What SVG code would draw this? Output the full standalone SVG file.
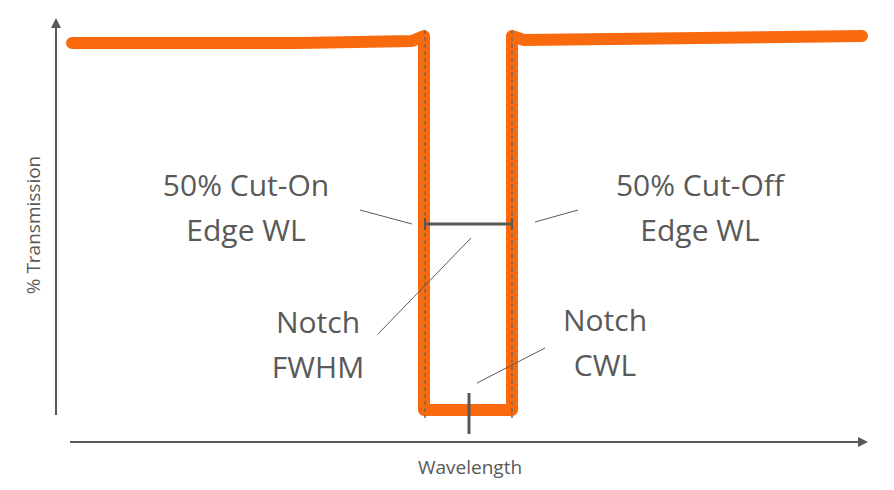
<svg xmlns="http://www.w3.org/2000/svg" width="894" height="490" viewBox="0 0 894 490">
<style>
.t{font-family:"Open Sans","Liberation Sans",sans-serif;fill:#595959;text-anchor:middle}
.big{font-size:30px}.sm{font-size:19px}
.ax{stroke:#595959;stroke-width:2;fill:none}
.ld{stroke:#595959;stroke-width:1;fill:none}
</style>
<defs><marker id="ah" markerWidth="10" markerHeight="10" refX="8" refY="5" orient="auto" markerUnits="userSpaceOnUse"><path d="M0,0 L10,5 L0,10 z" fill="#595959"/></marker></defs>
<rect width="894" height="490" fill="#fff"/>
<g id="axes">
<line class="ax" x1="56" y1="415" x2="56" y2="20" marker-end="url(#ah)"/>
<line class="ax" x1="70" y1="442" x2="866" y2="442" marker-end="url(#ah)"/>
</g>
<g id="curve">
<path d="M72,43 L300,43 L412,41 L424,36 L424,410 L512,410 L512,36 L524,40 L700,38 L862,36" fill="none" stroke="#f96a0e" stroke-width="12" stroke-linecap="round" stroke-linejoin="round"/>
<line x1="425" y1="30" x2="425" y2="418" stroke="#7a6a50" stroke-width="1.5" stroke-dasharray="4,3"/>
<line x1="512" y1="30" x2="512" y2="418" stroke="#7a6a50" stroke-width="1.5" stroke-dasharray="4,3"/>
</g>
<g id="connectors">
<line x1="425" y1="224" x2="512" y2="224" stroke="#595959" stroke-width="3"/>
<line x1="425" y1="218" x2="425" y2="230" stroke="#595959" stroke-width="2"/>
<line x1="512" y1="218" x2="512" y2="230" stroke="#595959" stroke-width="2"/>
<line x1="469" y1="393" x2="469" y2="434" stroke="#595959" stroke-width="3"/>
<line class="ld" x1="360" y1="210" x2="412" y2="224"/>
<line class="ld" x1="535" y1="222" x2="578" y2="210"/>
<line class="ld" x1="471" y1="238" x2="378" y2="334"/>
<line class="ld" x1="477" y1="383" x2="545" y2="348"/>
</g>
<g id="labels">
<text class="t big" x="246" y="196">50% Cut-On</text>
<text class="t big" x="246" y="241">Edge WL</text>
<text class="t big" x="700" y="196">50% Cut-Off</text>
<text class="t big" x="700" y="241">Edge WL</text>
<text class="t big" x="318" y="333">Notch</text>
<text class="t big" x="318" y="378">FWHM</text>
<text class="t big" x="605" y="331">Notch</text>
<text class="t big" x="605" y="376">CWL</text>
<text class="t sm" x="470" y="474">Wavelength</text>
<text class="t sm" transform="translate(40,225) rotate(-90)">% Transmission</text>
</g>
</svg>
